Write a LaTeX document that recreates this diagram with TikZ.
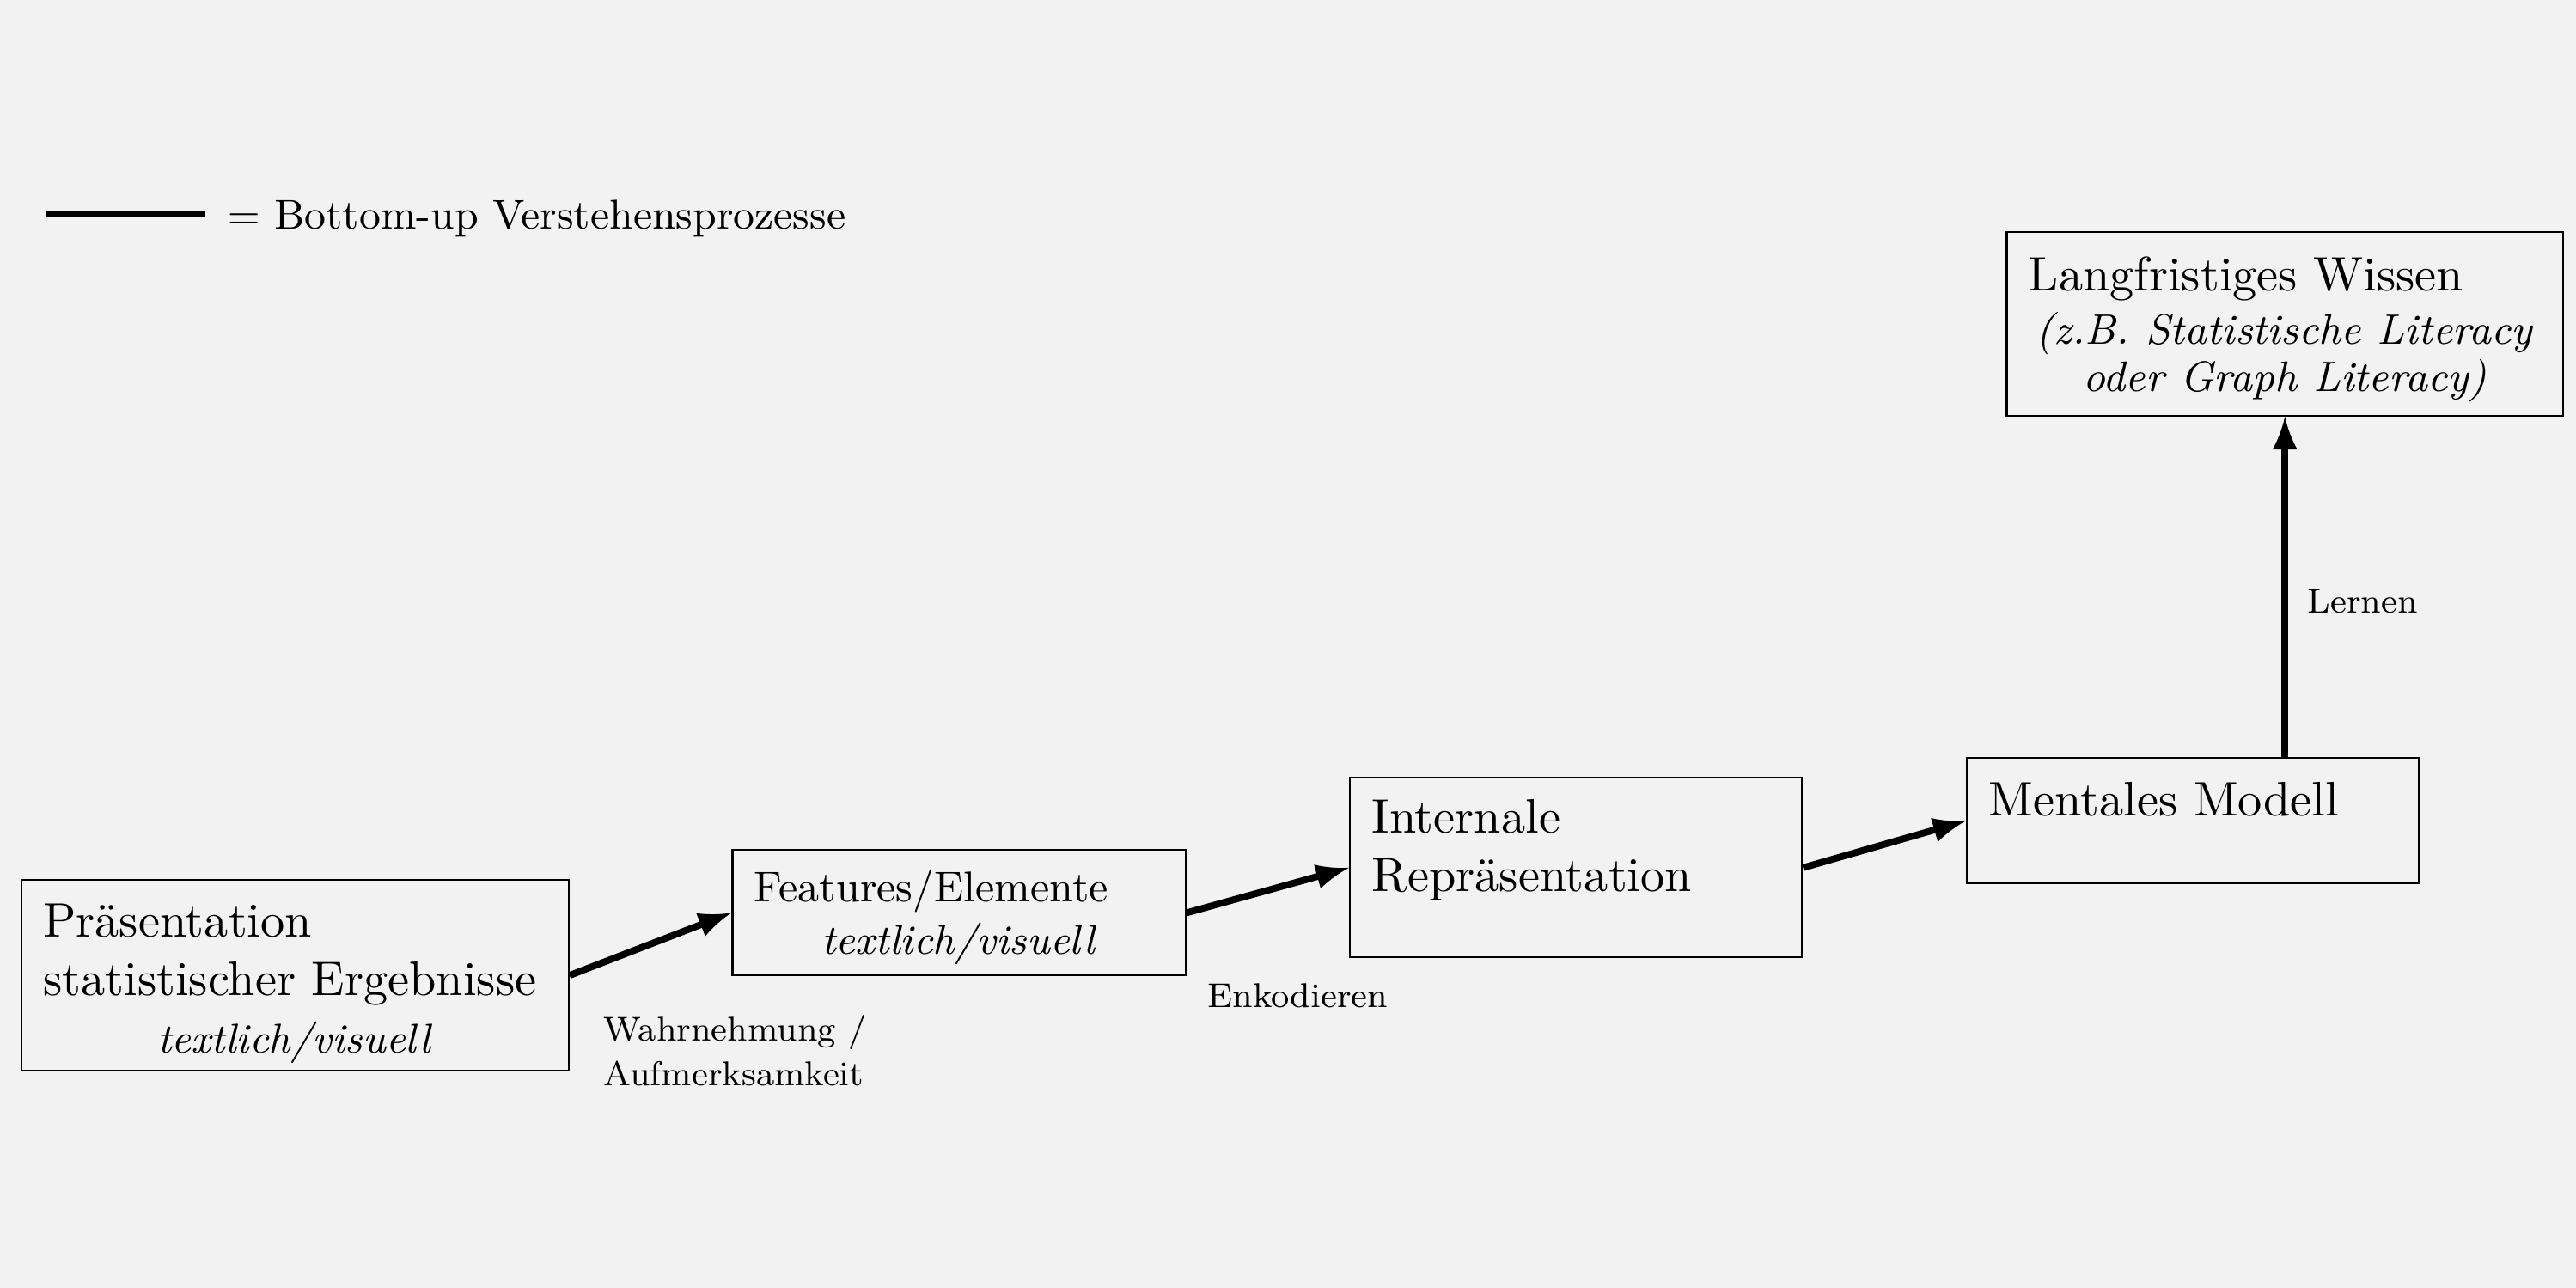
\documentclass[tikz,border=0pt]{standalone}
\usetikzlibrary{positioning}

\tikzset{
  box/.style={draw, line width=0.4pt, inner xsep=0.17cm, inner ysep=0pt,
    align=left, font=\fontsize{10.7}{12.8}\selectfont},
  lbl/.style={inner sep=0pt, align=left, anchor=west,
    font=\fontsize{7.6}{9.9}\selectfont},
  flow/.style={-latex, line width=1.5pt},
}
\newcommand{\mitte}[2][9.2]{\mbox{}\hfill{\fontsize{#1}{12}\selectfont\textit{#2}}\hfill\mbox{}}

\begin{document}
\begin{tikzpicture}
\fill[black!5] (0,0) rectangle (20,10);
\useasboundingbox (0,0) rectangle (20,10);

% Legende
\coordinate (legstart) at (0.36,8.34);
\draw[line width=1.5pt] (legstart) -- ++(1.233,0);
\node[anchor=base west, inner sep=0pt, font=\fontsize{9.2}{12}\selectfont] (legende) at (1.76,8.22) {$=$ Bottom-up Verstehensprozesse};

% Kaesten
\node[box, text width=3.91cm, minimum height=1.48cm] (praes) at (2.29,2.427)
  {\rule{0pt}{11pt}Präsentation\\statistischer Ergebnisse\\\mitte{textlich/visuell}};
\node[box, text width=3.18cm, minimum height=0.973cm, font=\fontsize{9.5}{11.5}\selectfont] (feat) at (7.447,2.913)
  {\rule{0pt}{9pt}Features/Elemente\\\mitte{textlich/visuell}};
\node[box, text width=3.17cm, minimum height=1.393cm] (intern) at (12.237,3.263)
  {Internale\\Repräsentation\\[-3pt]\mbox{}};
\node[box, text width=3.17cm, minimum height=0.973cm] (mental) at (17.027,3.627)
  {Mentales Modell\\[-3pt]\mbox{}};
\node[box, text width=3.98cm, minimum height=1.427cm] (wissen) at (17.74,7.487)
  {\rule{0pt}{10pt}Langfristiges Wissen\\[-1pt]\mitte[9.4]{(z.B. Statistische Literacy}\\[-2.5pt]\mitte[9.4]{oder Graph Literacy)}};

% Pfeile
\draw[flow] (praes.east) -- (feat.west);
\draw[flow] (feat.east) -- (intern.west);
\draw[flow] (intern.east) -- (mental.west);
\draw[flow] (mental.north -| wissen.south) -- (wissen.south);

\node[lbl] (wahrn) at (4.68,1.845) {Wahrnehmung /\\Aufmerksamkeit};
\node[lbl] (enkod) at (9.37,2.27) {Enkodieren};
\node[lbl] (lernen) at (17.91,5.33) {Lernen};
\end{tikzpicture}
\end{document}
